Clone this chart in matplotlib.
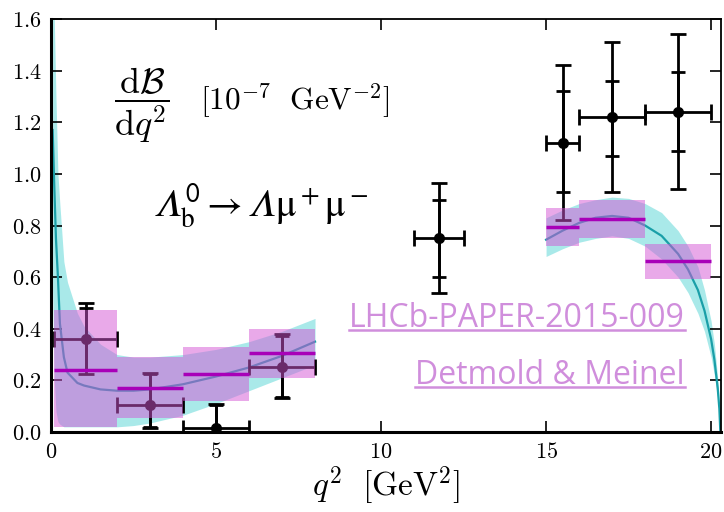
import matplotlib
matplotlib.use("Agg")
import matplotlib.pyplot as plt
from matplotlib.lines import Line2D

plt.rcParams["mathtext.fontset"] = "cm"

# --- LHCb measurement (binned) ---
bin_lo = [0.1, 2.0, 4.0, 6.0, 11.0, 15.0, 16.0, 18.0]
bin_hi = [2.0, 4.0, 6.0, 8.0, 12.5, 16.0, 18.0, 20.0]
meas = [0.36, 0.105, 0.015, 0.25, 0.75, 1.12, 1.22, 1.24]
stat_lo = [0.24, 0.02, 0.0, 0.135, 0.60, 0.93, 1.07, 1.09]
stat_hi = [0.48, 0.225, 0.105, 0.37, 0.90, 1.32, 1.36, 1.395]
tot_lo = [0.225, 0.015, 0.0, 0.13, 0.54, 0.82, 0.93, 0.94]
tot_hi = [0.50, 0.23, 0.11, 0.38, 0.965, 1.42, 1.51, 1.54]

# --- lattice QCD prediction (binned) ---
th_lo = [0.1, 2.0, 4.0, 6.0, 15.0, 16.0, 18.0]
th_hi = [2.0, 4.0, 6.0, 8.0, 16.0, 18.0, 20.0]
th_val = [0.24, 0.172, 0.225, 0.305, 0.795, 0.827, 0.663]
th_min = [0.018, 0.055, 0.12, 0.21, 0.72, 0.75, 0.592]
th_max = [0.473, 0.29, 0.33, 0.40, 0.867, 0.898, 0.73]

# --- lattice QCD prediction (continuous), low and high q^2 ---
q2_low = [0.05, 0.1, 0.15, 0.21, 0.27, 0.39, 0.5, 0.8, 1.0, 1.5, 2.0, 2.5, 3.0, 4.0, 5.0, 6.0, 7.0, 8.0]
c_low = [1.17, 0.95, 0.75, 0.60, 0.42, 0.29, 0.23, 0.19, 0.18, 0.165, 0.16, 0.16, 0.165, 0.185, 0.215, 0.25, 0.295, 0.35]
up_low = [1.8, 1.6, 1.3, 1.0, 0.88, 0.66, 0.58, 0.46, 0.41, 0.34, 0.30, 0.29, 0.29, 0.30, 0.32, 0.35, 0.39, 0.44]
dn_low = [0.55, 0.2, 0.08, 0.04, 0.03, 0.02, 0.02, 0.02, 0.02, 0.02, 0.02, 0.025, 0.035, 0.065, 0.11, 0.16, 0.21, 0.26]

q2_high = [15.0, 15.5, 16.0, 16.5, 17.0, 17.5, 18.0, 18.5, 19.0, 19.3, 19.6, 19.8, 20.0, 20.1, 20.2, 20.25, 20.28]
c_high = [0.745, 0.78, 0.81, 0.83, 0.837, 0.83, 0.80, 0.76, 0.69, 0.63, 0.55, 0.47, 0.36, 0.28, 0.17, 0.09, 0.0]
up_high = [0.83, 0.86, 0.885, 0.90, 0.91, 0.905, 0.885, 0.85, 0.78, 0.72, 0.64, 0.55, 0.43, 0.34, 0.21, 0.12, 0.0]
dn_high = [0.68, 0.71, 0.735, 0.75, 0.76, 0.75, 0.72, 0.67, 0.60, 0.54, 0.46, 0.39, 0.29, 0.22, 0.13, 0.06, 0.0]

xticks = [0, 5, 10, 15, 20]
yticks = [0.0, 0.2, 0.4, 0.6, 0.8, 1.0, 1.2, 1.4, 1.6]

fig = plt.figure(figsize=(7.24, 5.12), dpi=100)
ax = fig.add_axes([51 / 724, 80 / 512, 670 / 724, 413 / 512])

# continuous band + curve
for q, c, u, d in [(q2_low, c_low, up_low, dn_low), (q2_high, c_high, up_high, dn_high)]:
    ax.fill_between(q, d, u, color="#40d0d0", alpha=0.45, lw=0, zorder=1)
    ax.plot(q, c, color="#1a9fa8", lw=1.6, zorder=2)

# data points
xc = [(a + b) / 2 for a, b in zip(bin_lo, bin_hi)]
xerr = [[c - a for c, a in zip(xc, bin_lo)], [b - c for c, b in zip(xc, bin_hi)]]
ax.errorbar(xc, meas, xerr=xerr,
            yerr=[[m - t for m, t in zip(meas, tot_lo)], [t - m for m, t in zip(meas, tot_hi)]],
            fmt="o", color="black", ms=7, lw=2, capsize=5.5, capthick=2, zorder=3)
ax.errorbar(xc, meas,
            yerr=[[m - s for m, s in zip(meas, stat_lo)], [s - m for m, s in zip(meas, stat_hi)]],
            fmt="none", ecolor="black", lw=2, capsize=5, capthick=2, zorder=3)

# binned prediction boxes
ax.bar(th_lo, [t - b for t, b in zip(th_max, th_min)], bottom=th_min,
       width=[h - l for h, l in zip(th_hi, th_lo)], align="edge",
       color="#d455d4", alpha=0.5, lw=0, zorder=4)
ax.hlines(th_val, th_lo, th_hi, color="#a800b8", lw=2.5, zorder=5)

ax.set_xlim(0, 20.3)
ax.set_ylim(0, 1.6)
ax.set_xticks(xticks)
ax.set_xticklabels(["$%d$" % v for v in xticks])
ax.set_yticks(yticks)
ax.set_yticklabels(["$%.1f$" % v for v in yticks])
ax.tick_params(direction="in", length=8, width=1.2, labelsize=16, top=True, right=True, pad=7)
for side in ["left", "bottom"]:
    ax.spines[side].set_linewidth(2.2)
for side in ["top", "right"]:
    ax.spines[side].set_linewidth(1.3)
ax.set_xlabel(r"$q^2\ \ [\mathrm{GeV}^2]$", fontsize=24, labelpad=2)

ax.text(2.75, 1.267, r"$\dfrac{\mathrm{d}\mathcal{B}}{\mathrm{d}q^2}$", fontsize=26,
        ha="center", va="center")
ax.text(4.52, 1.279, r"$[10^{-7}\ \ \mathrm{GeV}^{-2}]$", fontsize=22.5, ha="left", va="center")
LAM = "\U0001D6EC"  # mathematical italic capital lambda
ax.text(3.09, 0.829,
        "$" + LAM + r"_\mathrm{b}^\mathsf{0}\rightarrow " + LAM + r"\mathrm{\mu}^+\mathrm{\mu}^-$",
        fontsize=28, ha="left", va="baseline", math_fontfamily="stix")

link_color = "#d08edc"
links = []
links.append(ax.text(19.2, 0.407, "LHCb-PAPER-2015-009", fontsize=23, family="Open Sans",
                     color=link_color, ha="right", va="baseline"))
links.append(ax.text(19.2, 0.186, "Detmold & Meinel", fontsize=23, family="Open Sans",
                     color=link_color, ha="right", va="baseline"))

# underline the link texts
fig.canvas.draw()
inv = fig.transFigure.inverted()
for t in links:
    bb = t.get_window_extent()
    x_base, y_base = ax.transData.transform(t.get_position())
    (x0, y0), (x1, _) = inv.transform([(bb.x0, y_base - 3), (bb.x1, y_base - 3)])
    fig.add_artist(Line2D([x0, x1], [y0, y0], color=link_color, lw=1.8))

fig.savefig("out.png", dpi=100)
